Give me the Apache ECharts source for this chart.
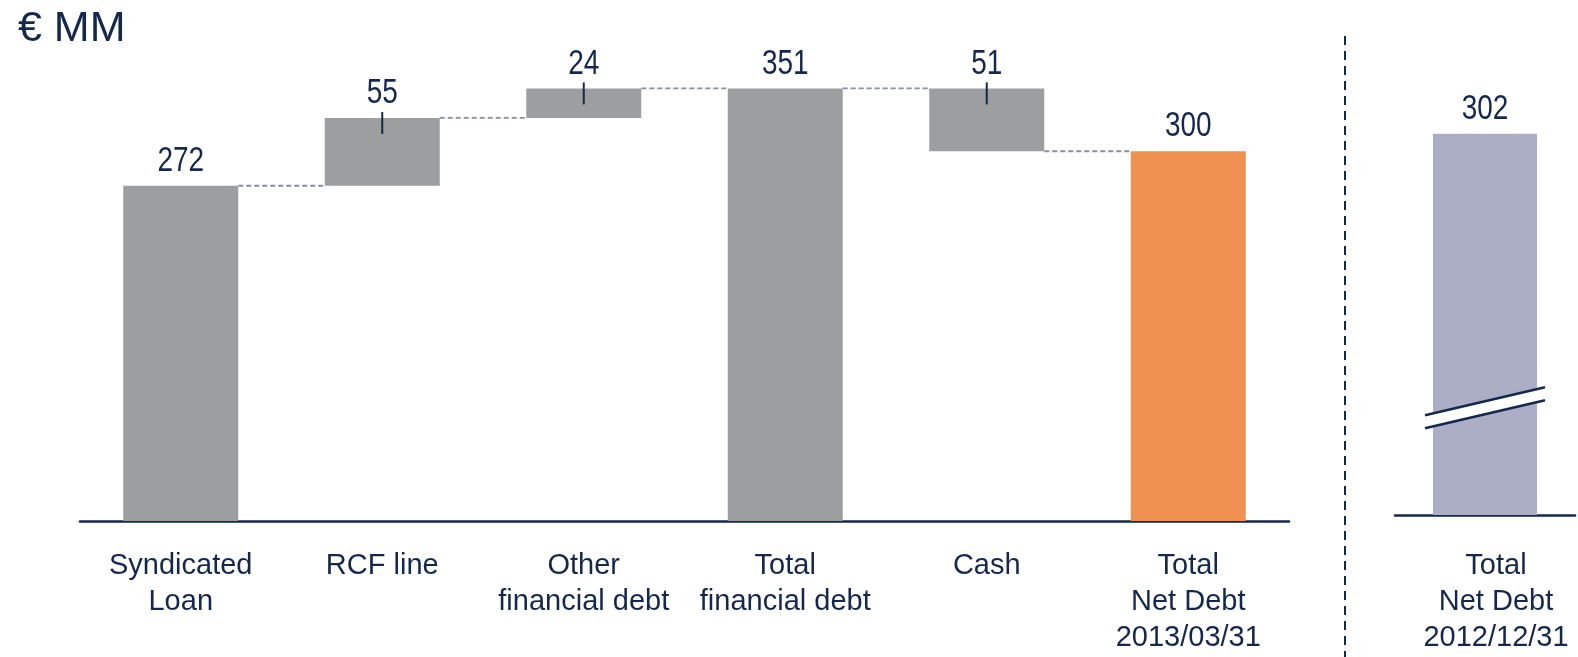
<!DOCTYPE html>
<html>
<head>
<meta charset="utf-8">
<script src="https://cdn.jsdelivr.net/npm/echarts@6/dist/echarts.min.js"></script>
<style>
html,body{margin:0;padding:0;background:#fff;}
#chart{width:1578px;height:657px;}
</style>
</head>
<body>
<div id="chart"></div>
<script>
// ---- data ----
const categories = ['Syndicated\nLoan', 'RCF line', 'Other\nfinancial debt', 'Total\nfinancial debt', 'Cash', 'Total\nNet Debt\n2013/03/31'];
const values = [272, 55, 24, 351, 51, 300];
const kinds = ['total', 'up', 'up', 'total', 'down', 'total'];
const priorCategories = ['Total\nNet Debt\n2012/12/31'];
const priorValues = [302];
const breakAt = [85];

// ---- derived waterfall ----
const bases = [];
const levels = [];
let run = 0;
values.forEach((v, i) => {
  if (kinds[i] === 'total') { bases.push(0); run = v; }
  else if (kinds[i] === 'up') { bases.push(run); run += v; }
  else { run -= v; bases.push(run); }
  levels.push(run);
});
const connectorData = levels.slice(0, -1).map((l, i) => [i, l]);
const tickData = [];
values.forEach((v, i) => { if (kinds[i] !== 'total') tickData.push([i, bases[i] + v]); });
const labelData = values.map((v, i) => [i, bases[i] + v, v]);
const priorLabelData = priorValues.map((v, i) => [i, v, v]);

const NAVY = '#14284E';
const GRAY = '#9D9EA0';
const ORANGE = '#F09151';
const LAVENDER = '#ABAEC4';
const BW = 115;
const BW2 = 104;
const REG = '"Liberation Sans", Arial, sans-serif';

const valueLabel = (params, api) => {
  const p = api.coord([api.value(0), api.value(1)]);
  return {
    type: 'text', x: p[0], y: p[1] - 7, scaleX: 0.8,
    style: {
      text: String(api.value(2)), fill: NAVY, fontSize: 35, fontFamily: REG,
      align: 'center', verticalAlign: 'bottom'
    }
  };
};

const chart = echarts.init(document.getElementById('chart'));
chart.setOption({
  animation: false,
  backgroundColor: '#fff',
  title: {
    text: '€ MM', left: 13, top: 3,
    textStyle: { color: NAVY, fontSize: 43, fontWeight: 'normal', fontFamily: REG }
  },
  grid: [
    { left: 80, right: 289, top: 28, bottom: 136 },
    { left: 1395, right: 3, top: 10, bottom: 142 }
  ],
  xAxis: [
    {
      type: 'category', gridIndex: 0, data: categories,
      axisLine: { lineStyle: { color: NAVY, width: 2.5 } },
      axisTick: { show: false },
      axisLabel: { color: NAVY, fontSize: 29, lineHeight: 36, margin: 27, fontFamily: REG, interval: 0 }
    },
    {
      type: 'category', gridIndex: 1, data: priorCategories,
      axisLine: { lineStyle: { color: NAVY, width: 2.5 } },
      axisTick: { show: false },
      axisLabel: { color: NAVY, fontSize: 29, lineHeight: 36, margin: 33, fontFamily: REG, padding: [0, 0, 0, 22] }
    }
  ],
  yAxis: [
    { type: 'value', gridIndex: 0, min: 0, max: 400, show: false },
    { type: 'value', gridIndex: 1, min: 0, max: 400, show: false }
  ],
  series: [
    {
      type: 'bar', xAxisIndex: 0, yAxisIndex: 0, stack: 'w', barWidth: BW, silent: true,
      itemStyle: { color: 'rgba(0,0,0,0)' },
      data: bases
    },
    {
      type: 'bar', xAxisIndex: 0, yAxisIndex: 0, stack: 'w', barWidth: BW,
      itemStyle: { color: p => (p.dataIndex === values.length - 1 ? ORANGE : GRAY) },
      data: values
    },
    {
      type: 'custom', xAxisIndex: 0, yAxisIndex: 0, silent: true, z: 7,
      data: labelData,
      renderItem: valueLabel
    },
    {
      type: 'custom', xAxisIndex: 0, yAxisIndex: 0, silent: true, z: 5,
      data: connectorData,
      renderItem: (params, api) => {
        const a = api.coord([api.value(0), api.value(1)]);
        const b = api.coord([api.value(0) + 1, api.value(1)]);
        return {
          type: 'line',
          shape: { x1: a[0] + BW / 2, y1: a[1], x2: b[0] - BW / 2, y2: a[1] },
          style: { stroke: '#8590A6', lineWidth: 1.8, lineDash: [5, 3] }
        };
      }
    },
    {
      type: 'custom', xAxisIndex: 0, yAxisIndex: 0, silent: true, z: 6,
      data: tickData,
      renderItem: (params, api) => {
        const a = api.coord([api.value(0), api.value(1)]);
        return {
          type: 'line',
          shape: { x1: a[0], y1: a[1] - 6, x2: a[0], y2: a[1] + 16 },
          style: { stroke: NAVY, lineWidth: 2 }
        };
      }
    },
    {
      type: 'bar', xAxisIndex: 1, yAxisIndex: 1, barWidth: BW2,
      itemStyle: { color: LAVENDER },
      data: priorValues
    },
    {
      type: 'custom', xAxisIndex: 1, yAxisIndex: 1, silent: true, z: 7,
      data: priorLabelData,
      renderItem: valueLabel
    },
    {
      type: 'custom', xAxisIndex: 1, yAxisIndex: 1, silent: true, z: 6,
      data: breakAt.map(v => [0, v]),
      renderItem: (params, api) => {
        const c = api.coord([api.value(0), api.value(1)]);
        const k = 0.233, gap = 6.5, xl = c[0] - 60, xr = c[0] + 60;
        const yu = x => c[1] - gap - (x - c[0]) * k;
        const yd = x => c[1] + gap - (x - c[0]) * k;
        return {
          type: 'group',
          children: [
            { type: 'polygon', shape: { points: [[xl, yu(xl)], [xr, yu(xr)], [xr, yd(xr)], [xl, yd(xl)]] }, style: { fill: '#fff' } },
            { type: 'line', shape: { x1: xl, y1: yu(xl), x2: xr, y2: yu(xr) }, style: { stroke: NAVY, lineWidth: 2.5 } },
            { type: 'line', shape: { x1: xl, y1: yd(xl), x2: xr, y2: yd(xr) }, style: { stroke: NAVY, lineWidth: 2.5 } }
          ]
        };
      }
    }
  ],
  graphic: [
    {
      type: 'line', silent: true,
      shape: { x1: 1345, y1: 36, x2: 1345, y2: 657 },
      style: { stroke: NAVY, lineWidth: 2, lineDash: [9, 6] }
    }
  ]
});
</script>
</body>
</html>
